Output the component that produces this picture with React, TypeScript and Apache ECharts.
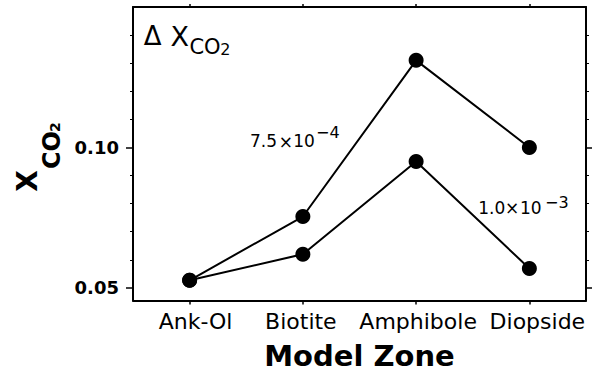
import React, { useEffect, useRef } from "react";
import * as echarts from "echarts";

// Model zones along the traverse and the mole fraction of CO2 in each
const zones = ["Ank-Ol", "Biotite", "Amphibole", "Diopside"];
const xco2Delta75e4 = [0.0527, 0.0754, 0.131, 0.1];
const xco2Delta10e3 = [0.0527, 0.062, 0.095, 0.0569];

// Y axis range and tick positions
const yRange = [0.0455, 0.15];
const yMajorTicks = [0.05, 0.1];
const yMinorTicks = [0.06, 0.07, 0.08, 0.09, 0.11, 0.12, 0.13, 0.14];

const FONT = "DejaVu Sans";
const INK = "#000";

// Horizontal nudges (px) of each zone label relative to its tick
const labelNudge = [6, -2, 2, 8];

function txt(
  text: string,
  x: number,
  y: number,
  size: number,
  opts: { bold?: boolean; align?: string; rotation?: number } = {}
) {
  return {
    type: "text",
    x,
    y,
    rotation: opts.rotation ?? 0,
    style: {
      text,
      fill: INK,
      fontFamily: FONT,
      fontSize: size,
      fontWeight: opts.bold ? "bold" : "normal",
      align: opts.align ?? "left",
      verticalAlign: "middle",
    },
  };
}

export default function App() {
  const ref = useRef<HTMLDivElement>(null);

  useEffect(() => {
    if (!ref.current) return;
    const chart = echarts.init(ref.current, null, { renderer: "svg" });

    const frameLine = { show: true, onZero: false, lineStyle: { color: INK, width: 2 } };
    const valueAxisBase = {
      type: "value",
      min: yRange[0],
      max: yRange[1],
      splitLine: { show: false },
    };

    const labelRich: Record<string, any> = {};
    labelNudge.forEach((d, i) => {
      labelRich["z" + i] = {
        color: INK,
        fontFamily: FONT,
        fontSize: 22,
        padding: d >= 0 ? [0, 0, 0, 2 * d] : [0, -2 * d, 0, 0],
      };
    });

    chart.setOption({
      animation: false,
      backgroundColor: "#fff",
      grid: {
        left: 133,
        right: 8,
        top: 7,
        bottom: 73.5,
        containLabel: false,
        outerBoundsMode: "none",
      },
      xAxis: [
        {
          type: "category",
          data: zones,
          position: "bottom",
          boundaryGap: true,
          axisLine: frameLine,
          axisTick: { show: true, alignWithLabel: true, length: 4, lineStyle: { color: INK, width: 1.5 } },
          axisLabel: {
            interval: 0,
            color: INK,
            fontFamily: FONT,
            fontSize: 22,
            margin: 10,
            formatter: (v: string, i: number) => `{z${i}|${v}}`,
            rich: labelRich,
          },
          name: "Model Zone",
          nameLocation: "middle",
          nameGap: 41,
          nameTextStyle: { color: INK, fontFamily: FONT, fontSize: 29, fontWeight: "bold" },
        },
        {
          type: "category",
          data: zones,
          position: "top",
          boundaryGap: true,
          axisLine: frameLine,
          axisTick: { show: true, alignWithLabel: true, interval: 0, length: 3, lineStyle: { color: INK, width: 1.5 } },
          axisLabel: { show: false },
        },
      ],
      yAxis: [
        {
          ...valueAxisBase,
          position: "left",
          axisLine: frameLine,
          axisTick: { show: true, customValues: yMajorTicks, length: 7, lineStyle: { color: INK, width: 1.5 } },
          axisLabel: {
            customValues: yMajorTicks,
            formatter: (v: number) => v.toFixed(2),
            color: INK,
            fontFamily: FONT,
            fontSize: 18,
            fontWeight: "bold",
            margin: 14,
          },
        },
        {
          ...valueAxisBase,
          position: "left",
          axisLine: { show: false },
          axisTick: { show: true, customValues: yMinorTicks, length: 3, lineStyle: { color: INK, width: 1 } },
          axisLabel: { show: false },
        },
        {
          ...valueAxisBase,
          position: "right",
          axisLine: frameLine,
          axisTick: { show: true, customValues: yMajorTicks, length: 6, lineStyle: { color: INK, width: 1.5 } },
          axisLabel: { show: false },
        },
        {
          ...valueAxisBase,
          position: "right",
          axisLine: { show: false },
          axisTick: { show: true, customValues: yMinorTicks, length: 3, lineStyle: { color: INK, width: 1 } },
          axisLabel: { show: false },
        },
      ],
      series: [
        {
          type: "line",
          data: xco2Delta75e4,
          xAxisIndex: 0,
          yAxisIndex: 0,
          symbol: "circle",
          symbolSize: 15,
          itemStyle: { color: INK },
          lineStyle: { color: INK, width: 2 },
        },
        {
          type: "line",
          data: xco2Delta10e3,
          xAxisIndex: 0,
          yAxisIndex: 0,
          symbol: "circle",
          symbolSize: 15,
          itemStyle: { color: INK },
          lineStyle: { color: INK, width: 2 },
        },
      ],
      graphic: [
        // Y axis title: X with subscript CO2, read bottom to top
        txt("X", 27, 181, 28, { bold: true, align: "center", rotation: Math.PI / 2 }),
        txt("CO", 52, 150, 24, { bold: true, align: "center", rotation: Math.PI / 2 }),
        txt("2", 55, 127, 14, { bold: true, align: "center", rotation: Math.PI / 2 }),
        // Panel heading: ΔX_CO2
        txt("Δ", 152.7, 36.3, 26, { align: "center" }),
        txt("X", 179.7, 36.3, 27, { align: "center" }),
        txt("CO", 205, 46.7, 21, { align: "center" }),
        txt("2", 225.3, 49.7, 16, { align: "center" }),
        // Upper curve: ΔX = 7.5 × 10^-4
        txt("7.5", 250, 141.3, 17),
        txt("×", 285.8, 141.6, 17, { align: "center" }),
        txt("10", 293.3, 141.3, 17),
        txt("−4", 316, 132.5, 16),
        // Lower curve: ΔX = 1.0 × 10^-3
        txt("1.0", 478.3, 208, 17),
        txt("×", 512.2, 208.3, 17, { align: "center" }),
        txt("10", 520, 208, 17),
        txt("−3", 545, 202.5, 16),
      ],
    });

    return () => chart.dispose();
  }, []);

  return (
    <div
      ref={ref}
      style={{ position: "absolute", left: 0, top: 0, width: 594, height: 374, background: "#fff" }}
    />
  );
}
